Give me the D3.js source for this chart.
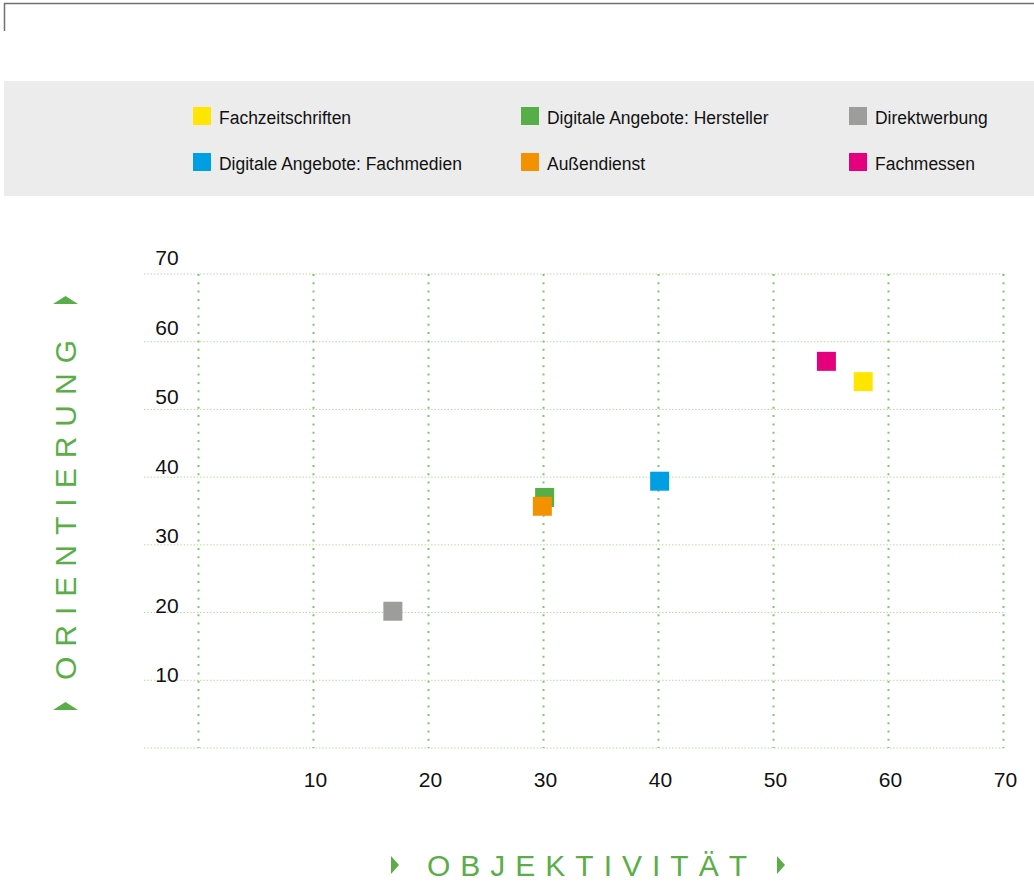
<!DOCTYPE html>
<html><head><meta charset="utf-8">
<script src="https://cdn.jsdelivr.net/npm/d3@7/dist/d3.min.js"></script>
<style>
html,body{margin:0;padding:0;background:#fff;}
svg{display:block;}
</style></head>
<body>
<svg id="chart" width="1034" height="885"></svg>
<script>
// ---- data ----
const categories = ["Fachzeitschriften","Digitale Angebote: Hersteller","Direktwerbung","Digitale Angebote: Fachmedien","Außendienst","Fachmessen"];
const colors = ["#ffe500","#56ae46","#9d9d9c","#009fe3","#f39200","#e5007d"];
const objektivitaet = [57.8, 30.1, 16.9, 40.1, 29.9, 54.6];
const orientierung = [54.1, 37.0, 20.2, 39.4, 35.7, 57.1];
const drawOrder = [2, 1, 4, 3, 5, 0];
const xTicks = [10,20,30,40,50,60,70];
const yTicks = [10,20,30,40,50,60,70];
const gridVals = [0,10,20,30,40,50,60,70];
const xTitle = "OBJEKTIVITÄT";
const yTitle = "ORIENTIERUNG";

const svg = d3.select("#chart");
const FONT = "'Liberation Sans',Arial,sans-serif";
const GREEN = "#5bae47";

// top frame
svg.append("path").attr("d","M4.5,31 V3.5 H1034").attr("fill","none").attr("stroke","#707070").attr("stroke-width",1.5);

// legend background
svg.append("rect").attr("x",4).attr("y",81).attr("width",1030).attr("height",115).attr("fill","#ececec");

// legend
const legCols = [193, 521, 849];
const legRows = [116, 162];
const legendPos = [[0,0],[1,0],[2,0],[0,1],[1,1],[2,1]];
const leg = svg.append("g");
categories.forEach((c,i)=>{
  const [ci,ri] = legendPos[i];
  const g = leg.append("g").attr("transform",`translate(${legCols[ci]},${legRows[ri]})`);
  g.append("rect").attr("x",0).attr("y",-9).attr("width",18).attr("height",18).attr("fill",colors[i]);
  g.append("text").attr("transform","translate(26,8) scale(0.92,1)").text(c)
    .attr("font-family",FONT).attr("font-size",19).attr("fill","#111");
});

// scales
const x = d3.scaleLinear().domain([0,70]).range([198.5,1003.5]);
const y = d3.scaleLinear().domain([0,70]).range([748,274]);
const yLab = d3.scaleLinear().domain([10,70]).range([675,258]);

const grid = svg.append("g");
// horizontal grid
grid.selectAll("line.h").data(gridVals).join("line").attr("class","h")
  .attr("x1",144).attr("x2",x(70)).attr("y1",d=>y(d)).attr("y2",d=>y(d))
  .attr("stroke","#b3dba6").attr("stroke-width",1).attr("stroke-dasharray","1.5,1.8");
// vertical grid
grid.selectAll("line.v").data(gridVals).join("line").attr("class","v")
  .attr("x1",d=>x(d)).attr("x2",d=>x(d)).attr("y1",y(70)).attr("y2",y(0))
  .attr("stroke","#86c274").attr("stroke-width",2).attr("stroke-dasharray","2,6.3");

// y tick labels
svg.append("g").selectAll("text").data(yTicks).join("text")
  .attr("x",167).attr("y",d=>yLab(d)).attr("dy","0.35em").attr("text-anchor","middle")
  .attr("font-family",FONT).attr("font-size",21).attr("fill","#111").text(d=>d);
// x tick labels
svg.append("g").selectAll("text").data(xTicks).join("text")
  .attr("x",d=>x(d)+2).attr("y",780).attr("dy","0.35em").attr("text-anchor","middle")
  .attr("font-family",FONT).attr("font-size",21).attr("fill","#111").text(d=>d);

// points
const S = 19;
svg.append("g").selectAll("rect").data(drawOrder).join("rect")
  .attr("x",i=>x(objektivitaet[i])-S/2).attr("y",i=>y(orientierung[i])-S/2)
  .attr("width",S).attr("height",S).attr("fill",i=>colors[i]);

// x title
svg.append("text").attr("x",592).attr("y",865).attr("dy","0.35em").attr("text-anchor","middle")
  .attr("font-family",FONT).attr("font-size",30).attr("letter-spacing",10)
  .attr("fill",GREEN).text(xTitle);
// x arrows
[395, 781].forEach(cx=>{
  svg.append("path").attr("d",`M${cx-4},${856} L${cx+4},${865} L${cx-4},${874} Z`).attr("fill",GREEN);
});
// y title
svg.append("text").attr("transform","translate(65,505) rotate(-90)").attr("dy","0.35em").attr("text-anchor","middle")
  .attr("font-family",FONT).attr("font-size",30).attr("letter-spacing",10)
  .attr("fill",GREEN).text(yTitle);
[300, 706].forEach(cy=>{
  svg.append("path").attr("d",`M53,${cy+4} L65.5,${cy-4} L78,${cy+4} Z`).attr("fill",GREEN);
});
</script>
</body></html>
